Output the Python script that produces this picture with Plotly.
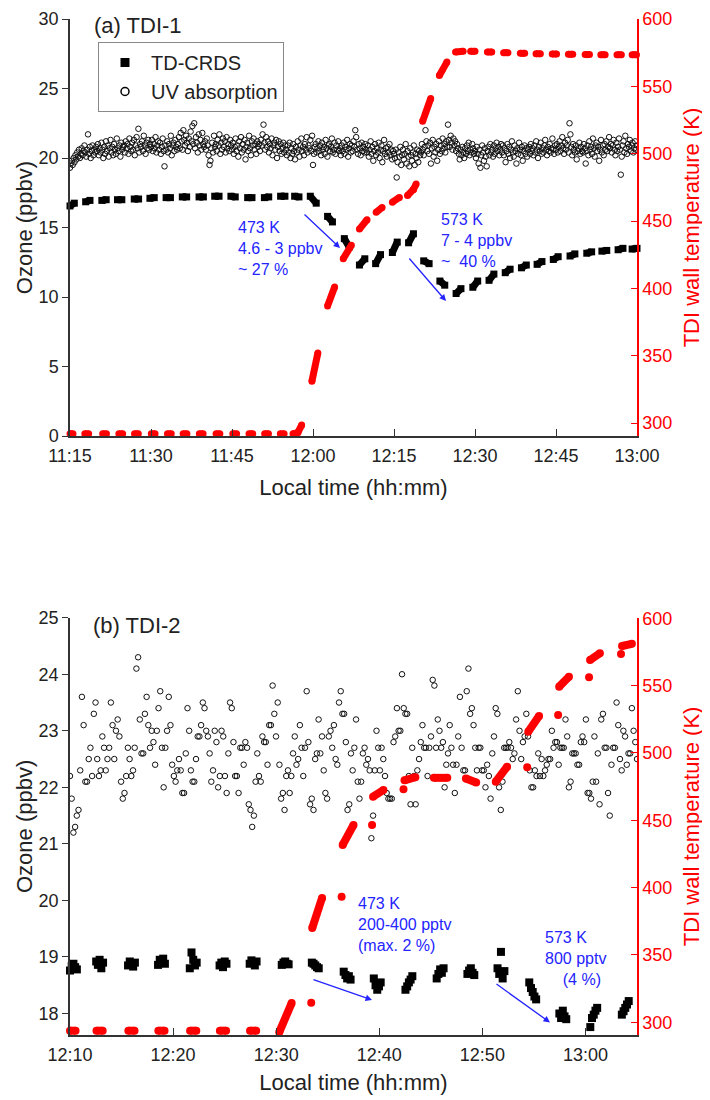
import datetime as dt
import numpy as np
import plotly.graph_objects as go

FONT = "Liberation Sans, Arial, Helvetica, sans-serif"
BLUE = "#2424ff"
DAY = dt.datetime(2017, 1, 1)
START_A = DAY.replace(hour=11, minute=15)
END_A = DAY.replace(hour=13, minute=0)
START_B = DAY.replace(hour=12, minute=10)
END_B = DAY.replace(hour=13, minute=5)

# ---------------- Panel (a) TDI-1 ----------------
# UV absorption ozone (ppbv), ~10 s samples 11:15 -> 13:00
UV_A = [
    19.3, 19.6, 19.8, 19.5, 20.0, 19.7, 20.2, 19.9, 20.4, 20.1, 20.6, 20.0, 20.3, 20.7, 20.2, 20.5, 20.9, 20.4, 20.1, 20.6, 21.7, 20.3, 20.8, 20.0, 20.5, 20.9, 20.2, 20.6, 20.4, 20.8,
    20.5, 21.0, 20.2, 20.7, 20.4, 21.1, 20.6, 20.0, 20.8, 20.3, 21.2, 20.5, 20.9, 20.1, 20.7, 21.3, 20.4, 20.8, 20.2, 21.0, 20.6, 20.3, 21.4, 20.7, 20.5, 20.9, 20.1, 21.1, 20.6, 20.8,
    20.9, 20.4, 21.2, 20.7, 21.0, 20.3, 21.4, 20.8, 20.5, 21.1, 20.6, 21.3, 20.2, 20.9, 21.5, 20.7, 22.1, 20.4, 21.0, 20.8, 21.2, 20.5, 21.6, 20.9, 20.3, 21.1, 20.7, 21.3, 20.6, 21.0,
    20.8, 21.3, 20.5, 21.0, 20.7, 21.5, 20.4, 20.9, 21.2, 20.6, 21.1, 20.3, 20.8, 21.4, 20.5, 19.4, 20.9, 20.6, 21.2, 20.4, 21.0, 20.7, 21.6, 20.2, 20.9, 21.1, 20.5, 21.3, 20.8, 20.6,
    21.0, 21.5, 20.7, 21.8, 21.2, 20.6, 22.0, 21.3, 20.9, 21.6, 21.1, 20.5, 21.4, 20.8, 21.9, 21.2, 22.3, 21.0, 22.5, 20.7, 21.5, 21.1, 20.4, 21.7, 20.9, 21.3, 20.6, 21.8, 21.0, 20.8,
    21.2, 20.6, 21.4, 20.9, 20.2, 19.5, 19.8, 20.7, 21.1, 20.4, 21.6, 20.8, 21.0, 20.5, 21.3, 20.9, 21.7, 20.3, 21.1, 20.6, 21.4, 20.8, 21.2, 20.4, 21.5, 20.7, 21.0, 20.5, 21.3, 20.9,
    20.6, 21.1, 20.3, 20.8, 21.4, 20.5, 20.9, 20.1, 21.2, 20.7, 21.5, 20.4, 21.0, 20.6, 21.3, 19.9, 20.8, 21.1, 20.5, 21.6, 20.7, 20.2, 21.2, 20.9, 21.4, 20.6, 21.0, 20.3, 21.2, 20.8,
    21.0, 20.5, 21.3, 20.9, 21.7, 22.4, 21.1, 20.6, 21.5, 20.8, 21.2, 20.4, 21.0, 20.7, 21.4, 20.2, 20.9, 21.1, 20.6, 21.3, 20.0, 20.8, 21.2, 20.5, 21.0, 20.3, 20.7, 21.1, 20.4, 20.9,
    20.6, 20.2, 20.9, 20.4, 21.1, 20.0, 20.7, 20.3, 21.0, 20.5, 19.9, 20.8, 20.4, 21.2, 20.6, 20.1, 20.9, 21.4, 20.5, 20.8, 20.2, 21.0, 20.6, 21.5, 20.4, 20.9, 20.7, 21.3, 20.5, 21.6,
    19.5, 20.3, 20.8, 21.0, 20.4, 20.7, 21.2, 20.5, 20.9, 20.2, 21.1, 20.6, 20.8, 20.3, 21.3, 20.7, 20.1, 20.9, 21.0, 20.5, 20.8, 21.4, 20.4, 20.6, 21.1, 20.3, 20.9, 20.6, 21.2, 20.5,
    20.7, 20.2, 20.9, 20.5, 21.1, 20.3, 20.8, 20.6, 21.3, 20.1, 20.7, 21.0, 20.4, 20.9, 20.5, 21.2, 20.8, 22.0, 21.5, 20.6, 20.3, 21.0, 20.7, 20.2, 21.1, 20.5, 20.8, 20.4, 21.0, 20.6,
    20.4, 20.9, 20.1, 20.6, 21.2, 20.3, 20.8, 19.8, 20.5, 21.0, 20.2, 20.7, 20.4, 21.1, 20.0, 20.6, 20.9, 19.7, 20.5, 21.3, 20.3, 20.7, 20.1, 20.8, 20.4, 21.0, 20.2, 20.6, 19.9, 20.5,
    20.3, 20.0, 20.6, 18.6, 19.7, 20.4, 20.1, 20.8, 19.5, 20.2, 20.6, 19.9, 20.3, 21.0, 19.6, 20.5, 20.1, 19.4, 20.7, 20.2, 19.8, 20.4, 20.9, 19.5, 20.3, 20.0, 20.6, 19.7, 20.5, 20.2,
    20.4, 21.0, 20.6, 20.2, 20.8, 22.0, 21.2, 20.5, 20.9, 20.3, 21.1, 19.6, 20.7, 21.3, 20.1, 20.8, 20.4, 21.0, 19.8, 20.6, 21.2, 20.3, 20.9, 20.5, 21.4, 20.7, 21.0, 20.4, 21.2, 20.8,
    22.4, 21.3, 20.8, 21.6, 21.1, 20.6, 21.4, 20.9, 21.2, 20.5, 21.0, 20.7, 20.3, 19.9, 20.6, 20.2, 20.8, 20.4, 20.0, 20.7, 20.3, 20.9, 20.5, 21.1, 20.2, 20.6, 20.4, 21.0, 20.7, 20.3,
    20.5, 20.0, 20.8, 20.3, 19.6, 20.6, 19.3, 20.2, 20.9, 20.4, 19.8, 20.7, 20.1, 19.4, 20.5, 20.8, 20.2, 21.0, 20.4, 20.6, 20.1, 20.9, 20.3, 20.7, 21.1, 20.5, 20.8, 20.2, 20.6, 21.0,
    20.4, 20.9, 20.2, 20.7, 19.7, 20.5, 21.0, 20.3, 20.8, 20.0, 20.6, 21.2, 20.4, 20.1, 20.9, 20.5, 19.6, 20.7, 20.3, 21.1, 20.6, 20.2, 20.8, 19.8, 20.5, 20.9, 20.3, 20.7, 20.1, 20.6,
    20.8, 20.3, 21.0, 20.5, 20.7, 20.2, 20.9, 20.4, 21.2, 20.6, 20.0, 20.8, 20.5, 21.1, 20.3, 20.7, 20.4, 20.9, 21.3, 20.6, 20.2, 20.8, 20.5, 21.0, 20.4, 20.7, 21.4, 20.6, 20.3, 20.9,
    20.6, 21.0, 20.4, 20.8, 21.2, 20.5, 20.9, 21.5, 20.7, 20.3, 21.1, 20.6, 20.9, 21.3, 20.4, 22.5, 21.7, 20.8, 20.2, 21.0, 20.6, 20.4, 20.9, 19.9, 20.5, 20.7, 21.1, 20.3, 20.8, 20.5,
    20.4, 21.0, 20.7, 19.6, 20.5, 20.9, 20.2, 21.2, 20.6, 20.8, 20.3, 21.4, 20.7, 20.1, 20.9, 21.1, 20.5, 20.8, 19.8, 20.6, 21.3, 20.4, 20.9, 20.2, 21.0, 20.6, 21.2, 20.5, 20.8, 21.5,
    20.7, 21.0, 20.4, 20.9, 21.3, 20.6, 20.2, 21.1, 20.5, 20.8, 21.4, 20.6, 18.8, 20.1, 20.9, 21.2, 20.4, 21.6, 20.7, 20.3, 21.0, 20.8, 21.3, 20.5, 20.9, 21.1, 20.4, 20.7, 21.2, 20.6,
    20.9,
]

# TD-CRDS measurement periods (minutes after 11:15) and ozone (ppbv)
CRDS_A_T0 = [0.0, 2.9, 5.9, 8.8, 11.9, 14.8, 17.8, 20.8, 23.9, 26.8, 29.8, 32.9, 36.0, 39.0, 41.6, 44.5, 47.7, 50.8,
             53.6, 56.6, 59.7, 62.7, 65.5, 68.5, 71.5, 74.6, 77.6, 80.6, 83.6, 86.5, 89.5, 92.6, 95.7, 98.5, 101.5, 104.1]
CRDS_A_T1 = [0.8, 3.7, 6.7, 9.6, 12.7, 15.6, 18.6, 21.6, 24.7, 27.6, 30.6, 33.7, 36.8, 39.8, 42.4, 45.6, 48.6, 51.7,
             54.6, 57.5, 60.6, 63.6, 66.5, 69.4, 72.4, 75.5, 78.5, 81.5, 84.5, 87.4, 90.4, 93.5, 96.6, 99.4, 102.4, 105.0]
CRDS_A_V0 = [16.55, 16.85, 16.95, 17.0, 17.05, 17.1, 17.15, 17.2, 17.2, 17.25, 17.25, 17.15, 17.15, 17.25, 17.25, 17.25,
             15.8, 14.2, 12.3, 12.4, 13.2, 13.9, 12.6, 11.15, 10.25, 10.7, 11.2, 11.75, 12.1, 12.35, 12.7, 12.95, 13.15,
             13.3, 13.4, 13.45]
CRDS_A_V1 = [16.75, 16.95, 17.0, 17.0, 17.05, 17.15, 17.15, 17.2, 17.2, 17.25, 17.2, 17.15, 17.2, 17.25, 17.2, 16.75,
             15.4, 13.6, 12.75, 13.05, 13.95, 14.55, 12.4, 10.85, 10.6, 11.15, 11.65, 12.0, 12.3, 12.55, 12.9, 13.1,
             13.25, 13.35, 13.5, 13.5]

# TDI wall temperature (K) measurement periods (minutes after 11:15)
TEMP_A_T0 = [0.0, 2.75, 6.05, 9.05, 11.95, 15.05, 18.05, 20.95, 23.95, 27.05, 30.15, 33.15, 36.05, 38.95,
             41.3, 42.2, 44.8, 47.7, 50.6, 53.6, 56.7, 59.7, 62.5, 63.6, 65.3, 68.4, 71.4,
             74.2, 77.3, 80.3, 83.4, 86.3, 89.3, 92.3, 95.4, 98.3, 101.3, 104.1]
TEMP_A_T1 = [0.55, 3.45, 6.75, 9.75, 12.65, 15.75, 18.75, 21.65, 24.65, 27.75, 30.85, 33.85, 36.75, 39.65,
             42.2, 42.9, 45.9, 49.0, 52.1, 55.0, 57.8, 61.0, 63.6, 64.1, 66.8, 69.8, 72.8,
             75.0, 78.1, 81.1, 84.2, 87.1, 90.1, 93.1, 96.2, 99.1, 102.1, 104.9]
TEMP_A_V0 = [292.0, 292.0, 292.0, 292.0, 292.0, 292.0, 292.0, 292.0, 292.0, 292.0, 292.0, 292.0, 292.0, 292.0,
             292.0, 293.0, 331.0, 387.0, 422.0, 444.0, 456.5, 464.0, 469.0, 473.5, 524.0, 558.0, 575.5,
             576.0, 575.5, 575.0, 574.5, 574.2, 574.0, 573.8, 573.6, 573.5, 573.5, 573.5]
TEMP_A_V1 = [292.0, 292.0, 292.0, 292.0, 292.0, 292.0, 292.0, 292.0, 292.0, 292.0, 292.0, 292.0, 292.0, 292.0,
             293.0, 298.5, 352.0, 401.0, 432.0, 451.0, 460.0, 467.5, 473.5, 477.5, 541.0, 568.0, 576.0,
             576.0, 575.5, 575.0, 574.5, 574.2, 574.0, 573.8, 573.6, 573.5, 573.5, 573.5]

# ---------------- Panel (b) TDI-2 ----------------
UV_B = [
    22.2, 21.8, 21.2, 21.3, 21.5, 21.6, 22.3, 23.6, 23.1, 22.1, 22.1, 22.5, 22.7, 22.2, 23.3, 23.5, 22.5, 22.2, 22.3, 22.9,
    22.7, 22.3, 22.5, 22.7, 23.5, 23.1, 22.5, 23.0, 23.2, 22.9, 22.1, 21.8, 21.9, 22.2, 22.7, 22.5, 22.2, 22.3, 22.7, 24.1,
    24.3, 23.2, 22.6, 22.6, 23.3, 23.6, 23.1, 22.7, 23.0, 22.8, 22.4, 23.0, 23.4, 23.7, 22.7, 22.0, 22.7, 23.0, 23.6, 23.1,
    22.4, 22.2, 22.1, 22.3, 22.5, 22.3, 21.9, 21.9, 22.6, 23.4, 23.0, 22.3, 22.1, 22.1, 22.5, 22.9, 22.9, 23.1, 23.5, 23.4,
    23.0, 22.9, 22.6, 22.1, 22.3, 23.0, 22.8, 22.0, 22.2, 23.0, 22.9, 22.2, 21.9, 22.6, 23.5, 23.4, 22.8, 22.2, 22.2, 21.9,
    22.7, 22.7, 22.4, 22.8, 22.7, 21.7, 21.6, 21.3, 21.5, 22.1, 22.6, 22.2, 22.1, 22.9, 22.8, 22.8, 22.4, 23.1, 23.1, 23.8,
    23.3, 22.9, 23.5, 22.4, 21.8, 21.9, 21.6, 22.2, 22.3, 21.9, 22.2, 22.6, 22.9, 22.4, 22.5, 23.1, 22.7, 22.2, 22.7, 23.7,
    22.8, 21.7, 21.8, 21.6, 22.5, 22.6, 23.2, 22.6, 22.9, 22.3, 21.9, 21.8, 22.9, 23.0, 22.7, 23.1, 22.5, 22.4, 23.5, 23.7,
    23.3, 23.3, 22.8, 21.6, 21.7, 22.6, 22.3, 22.7, 23.2, 22.1, 21.8,
    22.1, 22.6, 22.7, 22.4, 22.5, 22.3, 21.1, 21.5, 22.3, 23.0, 22.7, 22.3, 22.7, 22.5, 22.2, 21.9, 21.8, 21.8, 21.8, 22.8,
    22.9, 23.4, 23.0, 23.0, 24.0, 23.4, 23.3, 23.3, 22.2, 21.7, 22.7, 22.2, 21.7, 22.3, 22.5, 22.8, 23.1, 22.7, 22.7, 22.2,
    22.7, 22.9, 23.9, 23.8, 22.7, 23.2, 23.0, 22.7, 22.8, 22.0, 22.4, 22.6, 23.1, 22.7, 22.4, 21.9, 22.4, 22.9, 23.6, 22.7,
    22.3, 22.3, 23.7, 24.1, 23.3, 23.4, 23.1, 22.7, 22.3, 22.7, 22.7, 22.3, 22.3, 22.0, 22.4, 22.2, 21.8, 22.6, 22.9, 23.4,
    23.3, 22.0, 21.6, 22.1, 22.7, 22.7, 22.7, 22.8, 22.7, 22.5, 22.6, 23.2, 23.7, 23.0, 22.5, 22.8, 22.9, 23.3, 22.9, 22.3,
    22.0, 22.0, 22.3, 22.2, 22.6, 22.2, 22.5, 22.2, 22.3, 22.4, 22.5, 22.5, 23.0, 22.7, 22.8, 22.8, 22.4, 22.7, 22.7, 22.7,
    23.2, 22.9, 22.0, 22.1, 22.6, 22.6, 22.6, 22.4, 22.4, 22.8, 22.9, 22.8, 23.2, 21.9, 21.9, 21.8, 22.1, 22.9, 22.1, 22.6,
    21.7, 23.2, 23.3, 22.7, 22.7, 21.9, 21.5, 22.4, 22.7, 22.7, 23.5, 23.1, 22.5, 22.3, 23.0, 22.9, 22.4, 22.6, 22.6, 23.4,
    23.0, 22.8, 22.5,
]

# TD-CRDS: start of each measurement period (minutes after 12:10), 10 s samples
CRDS_B_T0 = [0.0, 2.54, 5.63, 8.54, 11.62, 14.51, 17.43, 20.54, 23.46, 26.55, 29.47, 32.54, 35.57, 38.55, 41.47,
             44.55, 47.47, 50.47, 53.53]
CRDS_B_V = [
    [18.76, 18.84, 18.88, 18.82, 18.78],
    [18.92, 18.86, 18.95, 18.80, 18.90],
    [18.85, 18.92, 18.88, 18.83, 18.90],
    [18.86, 18.95, 18.90, 18.97, 18.88],
    [18.80, 19.08, 18.95, 18.85, 18.90],
    [18.85, 18.90, 18.82, 18.92, 18.88],
    [18.88, 18.94, 18.90, 18.85, 18.92],
    [18.86, 18.90, 18.92, 18.88, 18.87],
    [18.90, 18.88, 18.85, 18.82, 18.80],
    [18.74, 18.68, 18.62, 18.66, 18.60],
    [18.62, 18.50, 18.42, 18.48, 18.55],
    [18.42, 18.48, 18.55, 18.60, 18.66],
    [18.62, 18.70, 18.78, 18.72, 18.80],
    [18.70, 18.76, 18.80, 18.72, 18.68],
    [18.80, 18.70, 19.09, 18.62, 18.75],
    [18.55, 18.45, 18.38, 18.30, 18.25],
    [18.00, 17.92, 18.05, 17.95, 17.90],
    [17.76, 17.92, 17.98, 18.05, 18.10],
    [17.98, 18.04, 18.10, 18.16, 18.22],
]

# TDI wall temperature (K): measurement periods (minutes after 12:10)
TEMP_B_T0 = [0.0, 2.57, 5.66, 8.57, 11.65, 14.54, 17.46,
             20.3, 23.5, 26.45, 29.4, 32.45, 35.3, 38.4, 41.3, 44.45, 47.45, 50.45, 53.55]
TEMP_B_T1 = [0.54, 3.17, 6.26, 9.17, 12.25, 15.14, 18.06,
             21.5, 24.45, 27.5, 30.4, 33.5, 36.6, 39.4, 42.4, 45.5, 48.4, 51.4, 54.5]
TEMP_B_V0 = [293.8, 293.8, 293.8, 293.8, 293.8, 293.8, 293.8,
             292.7, 370.0, 431.7, 467.5, 479.7, 481.5, 481.0, 478.7, 515.8, 549.2, 569.0, 579.4]
TEMP_B_V1 = [293.8, 293.8, 293.8, 293.8, 293.8, 293.8, 293.8,
             314.3, 392.4, 446.5, 472.5, 482.0, 481.5, 478.0, 489.8, 527.5, 556.6, 574.0, 581.0]
# single readings at the start of a heating step
TEMP_B_DOT_T = [23.4, 26.35, 29.3, 32.35, 44.35, 47.35, 50.35, 53.45]
TEMP_B_DOT_V = [314.5, 393.3, 446.5, 473.0, 489.3, 528.2, 556.2, 573.5]

# ---------------- helpers ----------------
def at(base, minutes):
    return base + dt.timedelta(minutes=float(minutes))


def segments(base, t0, t1, v0, v1):
    xs, ys = [], []
    for a, b, c, d in zip(t0, t1, v0, v1):
        xs += [at(base, a), at(base, b), None]
        ys += [c, d, None]
    return xs, ys


def sampled(base, total_min, values):
    secs = np.linspace(0, total_min * 60, len(values))
    return [base + dt.timedelta(seconds=float(s)) for s in secs]


fig = go.Figure()

UVM = dict(symbol="circle-open", size=5.5, color="#111", line=dict(width=1, color="#111"))
# Panel (a)
fig.add_trace(go.Scatter(x=sampled(START_A, 105, UV_A), y=UV_A, mode="markers", xaxis="x", yaxis="y",
                         showlegend=False, marker=UVM))
xa, ya = segments(START_A, CRDS_A_T0, CRDS_A_T1, CRDS_A_V0, CRDS_A_V1)
fig.add_trace(go.Scatter(
    x=xa, y=ya, mode="lines+markers", xaxis="x", yaxis="y", showlegend=False, cliponaxis=False,
    line=dict(color="black", width=7), marker=dict(symbol="square", size=7, color="black")))
xt, yt = segments(START_A, TEMP_A_T0, TEMP_A_T1, TEMP_A_V0, TEMP_A_V1)
fig.add_trace(go.Scatter(
    x=xt, y=yt, mode="lines+markers", xaxis="x", yaxis="y2", showlegend=False, cliponaxis=False,
    line=dict(color="red", width=7), marker=dict(symbol="circle", size=7, color="red")))

# Panel (b)
fig.add_trace(go.Scatter(x=sampled(START_B, 55, UV_B), y=UV_B, mode="markers", xaxis="x2", yaxis="y3",
                         showlegend=False, marker=UVM))
cb_x, cb_y = [], []
for t0, vals in zip(CRDS_B_T0, CRDS_B_V):
    for i, v in enumerate(vals):
        cb_x.append(START_B + dt.timedelta(minutes=t0, seconds=10 * i))
        cb_y.append(v)
fig.add_trace(go.Scatter(
    x=cb_x, y=cb_y, mode="markers", xaxis="x2", yaxis="y3", showlegend=False, cliponaxis=False,
    marker=dict(symbol="square", size=8, color="black")))
xtb, ytb = segments(START_B, TEMP_B_T0, TEMP_B_T1, TEMP_B_V0, TEMP_B_V1)
fig.add_trace(go.Scatter(
    x=xtb, y=ytb, mode="lines+markers", xaxis="x2", yaxis="y4", showlegend=False, cliponaxis=False,
    line=dict(color="red", width=8), marker=dict(symbol="circle", size=8, color="red")))
fig.add_trace(go.Scatter(
    x=[at(START_B, t) for t in TEMP_B_DOT_T], y=TEMP_B_DOT_V, mode="markers", xaxis="x2", yaxis="y4",
    showlegend=False, cliponaxis=False, marker=dict(symbol="circle", size=8, color="red")))

# legend entries
fig.add_trace(go.Scatter(x=[None], y=[None], mode="markers", name="TD-CRDS", xaxis="x", yaxis="y",
                         marker=dict(symbol="square", size=9, color="black")))
fig.add_trace(go.Scatter(x=[None], y=[None], mode="markers", name="UV absorption", xaxis="x", yaxis="y",
                         marker=dict(symbol="circle-open", size=8, color="black", line=dict(width=1.5))))

# ---------------- layout ----------------
# The page body has an 8 px margin, so the figure is drawn 8 px right/down of the page origin.
OFF = 8
TOP_A = 19          # page y of the top of panel (a)
W, H = 710 - OFF, 1100 - OFF
L, R, T, B = 70 - OFF, 73, TOP_A - OFF, 65
PW, PH = W - L - R, H - T - B


def px(xp):  # page pixel -> paper x
    return (xp - OFF - L) / PW


def py(yp):  # page pixel -> paper y
    return (H - B - (yp - OFF)) / PH


AX = "#333333"
xcommon = dict(type="date", tickformat="%H:%M", ticks="inside", ticklen=7, tickcolor=AX, showline=True,
               linecolor=AX, linewidth=1.5, showgrid=False, zeroline=False, automargin=False,
               ticklabeloverflow="allow", ticklabelstandoff=3,
               tickfont=dict(size=18, color="#222"))
ylcommon = dict(ticks="outside", ticklen=6, tickcolor=AX, showline=True, linecolor=AX, linewidth=1.5,
                showgrid=False, zeroline=False, automargin=False, ticklabeloverflow="allow",
                tickfont=dict(size=18, color="#222"))
yrcommon = dict(side="right", ticks="inside", ticklen=6, tickcolor="red", showline=True, linecolor="red",
                linewidth=1.5, showgrid=False, zeroline=False, automargin=False, ticklabeloverflow="allow",
                tickfont=dict(size=18, color="red"), dtick=50, tick0=300)

fig.update_layout(
    width=W, height=H, margin=dict(l=L, r=R, t=T, b=B, autoexpand=False),
    paper_bgcolor="white", plot_bgcolor="white",
    font=dict(family=FONT, size=18, color="#222"),
    legend=dict(x=px(98), y=py(42), xanchor="left", yanchor="top", bordercolor="#888", borderwidth=1,
                bgcolor="white", font=dict(size=20, family=FONT), tracegroupgap=0, itemwidth=42),
    xaxis=dict(xcommon, domain=[0, 1], anchor="y", range=[START_A, END_A], dtick=15 * 60 * 1000, tick0=START_A,
               title=dict(text="Local time (hh:mm)", font=dict(size=22), standoff=14)),
    yaxis=dict(ylcommon, domain=[py(436), 1], anchor="x", range=[0, 30], dtick=5,
               title=dict(text="Ozone (ppbv)", font=dict(size=22), standoff=0)),
    yaxis2=dict(yrcommon, overlaying="y", anchor="x", range=[290.4, 600],
                title=dict(text="TDI wall temperature (K)", font=dict(size=22, color="red"), standoff=12)),
    xaxis2=dict(xcommon, domain=[0, 1], anchor="y3", range=[START_B, END_B], dtick=10 * 60 * 1000, tick0=START_B,
                title=dict(text="Local time (hh:mm)", font=dict(size=22), standoff=10)),
    yaxis3=dict(ylcommon, domain=[0, py(617.7)], anchor="x2", range=[17.62, 25], dtick=1,
                title=dict(text="Ozone (ppbv)", font=dict(size=22), standoff=0)),
    yaxis4=dict(yrcommon, overlaying="y3", anchor="x2", range=[290.6, 600.4],
                title=dict(text="TDI wall temperature (K)", font=dict(size=22, color="red"), standoff=12)),
)

ann = []
# panel labels
ann.append(dict(text="(a) TDI-1", x=px(92), y=py(26), xref="paper", yref="paper", xanchor="left",
                yanchor="middle", showarrow=False, font=dict(size=22, color="#222")))
ann.append(dict(text="(b) TDI-2", x=px(91), y=py(625), xref="paper", yref="paper", xanchor="left",
                yanchor="middle", showarrow=False, font=dict(size=22, color="#222")))
# blue notes
notes = [
    ("473 K<br>4.6 - 3 ppbv<br>~ 27 %", 236, 248.5),
    ("573 K<br>7 - 4 ppbv<br>~&nbsp;&nbsp;40 %", 439, 240.5),
    ("473 K<br>200-400 pptv<br>(max. 2 %)", 356, 924),
    ("573 K<br>800 pptv<br>&nbsp;&nbsp;&nbsp;&nbsp;(4 %)", 543, 958),
]
for txt, xp, yp in notes:
    ann.append(dict(text=txt, x=px(xp), y=py(yp), xref="paper", yref="paper", xanchor="left", yanchor="middle",
                    align="left", showarrow=False, font=dict(size=16, color=BLUE)))
arrows = [((303, 213), (340, 248)), ((408, 257), (446, 301)),
          ((312, 979), (372, 1000)), ((495, 983), (550, 1022.5))]
for (tx, ty), (hx, hy) in arrows:
    ann.append(dict(text="", x=px(hx), y=py(hy), xref="paper", yref="paper", ax=tx - hx, ay=ty - hy,
                    showarrow=True, arrowhead=2, arrowsize=1, arrowwidth=1.3, arrowcolor=BLUE, standoff=0))
fig.update_layout(annotations=ann)

fig.write_html("out.html")
